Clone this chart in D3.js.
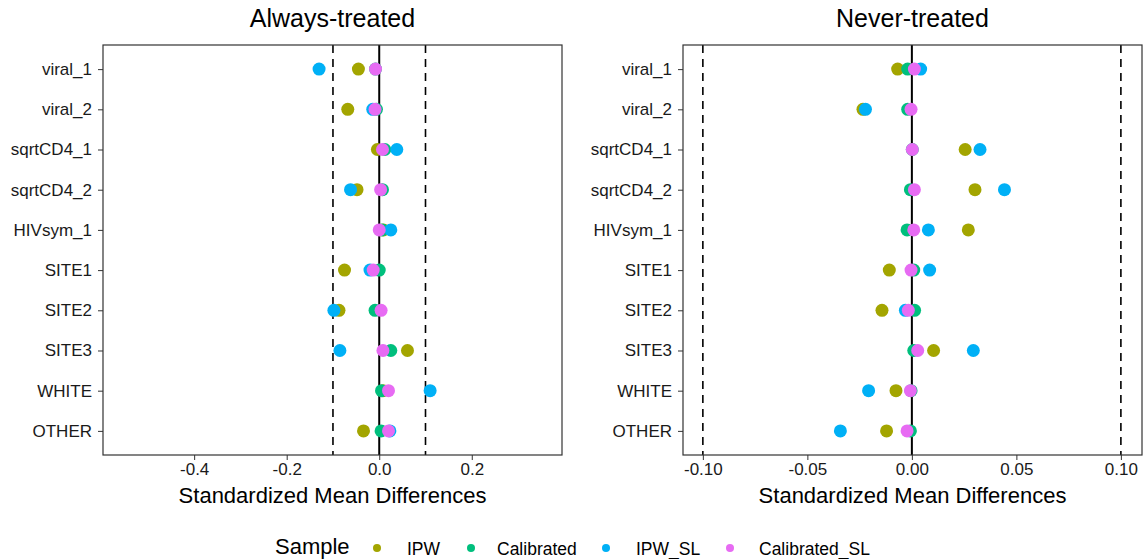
<!DOCTYPE html>
<html>
<head>
<meta charset="utf-8">
<script src="https://cdn.jsdelivr.net/npm/d3@7"></script>
<style>
  body { margin: 0; background: #fff; }
  svg { font-family: "Liberation Sans", Arial, sans-serif; }
</style>
</head>
<body>
<script>
// covariates, top to bottom
const covariates = ['viral_1', 'viral_2', 'sqrtCD4_1', 'sqrtCD4_2', 'HIVsym_1',
                    'SITE1', 'SITE2', 'SITE3', 'WHITE', 'OTHER'];
const methods = ['IPW', 'Calibrated', 'IPW_SL', 'Calibrated_SL'];
const methodColors = ['#A3A500', '#00BF7D', '#00B0F6', '#E76BF3'];

// Always-treated SMDs (one array per method, in covariate order)
const alwaysIPW    = [-0.045, -0.068, -0.004, -0.048, 0.009, -0.075, -0.087, 0.061, 0.008, -0.034];
const alwaysCal    = [-0.008, -0.006, 0.012, 0.007, 0.006, 0.000, -0.009, 0.025, 0.005, 0.004];
const alwaysIPWSL  = [-0.130, -0.014, 0.038, -0.062, 0.025, -0.020, -0.098, -0.085, 0.110, 0.023];
const alwaysCalSL  = [-0.008, -0.009, 0.007, 0.003, 0.000, -0.013, 0.004, 0.008, 0.020, 0.020];

// Never-treated SMDs
const neverIPW     = [-0.0068, -0.0234, 0.0255, 0.0302, 0.0270, -0.0108, -0.0143, 0.0104, -0.0076, -0.0121];
const neverCal     = [-0.0020, -0.0020, 0.0002, -0.0007, -0.0023, 0.0009, 0.0013, 0.0009, -0.0004, -0.0007];
const neverIPWSL   = [0.0042, -0.0222, 0.0326, 0.0443, 0.0079, 0.0085, -0.0031, 0.0294, -0.0207, -0.0342];
const neverCalSL   = [0.0012, -0.0004, 0.0002, 0.0012, 0.0009, -0.0004, -0.0017, 0.0028, -0.0007, -0.0023];

const leftTicks  = [-0.4, -0.2, 0.0, 0.2];
const rightTicks = [-0.10, -0.05, 0.00, 0.05, 0.10];
const threshold = 0.1;

const width = 1144, height = 559;
const svg = d3.select('body').append('svg')
    .attr('width', width).attr('height', height);

// plain hyphen for negatives, like R does
const locale = d3.formatLocale({ decimal: '.', thousands: ',', grouping: [3],
                                 currency: ['', ''], minus: '-' });

const panels = [
  { title: 'Always-treated', x0: 103, x1: 562, domain: [-0.597, 0.395],
    ticks: leftTicks, fmt: locale.format('.1f'),
    series: [alwaysIPW, alwaysCal, alwaysIPWSL, alwaysCalSL] },
  { title: 'Never-treated', x0: 683, x1: 1142, domain: [-0.1095, 0.1101],
    ticks: rightTicks, fmt: locale.format('.2f'),
    series: [neverIPW, neverCal, neverIPWSL, neverCalSL] }
];

const panelTop = 45, panelBottom = 455;

const y = d3.scalePoint()
    .domain(covariates)
    .range([panelTop, panelBottom])
    .padding(0.6);

panels.forEach(p => {
  const x = d3.scaleLinear().domain(p.domain).range([p.x0, p.x1]);
  const g = svg.append('g');

  // title
  g.append('text')
    .attr('x', (p.x0 + p.x1) / 2).attr('y', 27)
    .attr('text-anchor', 'middle')
    .style('font-size', '25px')
    .text(p.title);

  // zero line and thresholds
  g.append('line')
    .attr('x1', x(0)).attr('x2', x(0))
    .attr('y1', panelTop).attr('y2', panelBottom)
    .attr('stroke', '#000').attr('stroke-width', 2);
  [-threshold, threshold].forEach(t => {
    g.append('line')
      .attr('x1', x(t)).attr('x2', x(t))
      .attr('y1', panelTop).attr('y2', panelBottom)
      .attr('stroke', '#000').attr('stroke-width', 1.6)
      .attr('stroke-dasharray', '8,6');
  });

  // points, drawn in legend order
  p.series.forEach((vals, m) => {
    g.selectAll(null)
      .data(vals)
      .enter().append('circle')
      .attr('cx', d => x(d))
      .attr('cy', (d, i) => y(covariates[i]))
      .attr('r', 6.5)
      .attr('fill', methodColors[m]);
  });

  // axes
  const xAxis = d3.axisBottom(x).tickValues(p.ticks).tickFormat(p.fmt)
      .tickSize(5).tickPadding(3);
  const gx = g.append('g').attr('transform', `translate(0,${panelBottom})`).call(xAxis);
  gx.select('.domain').remove();
  gx.selectAll('text').style('font-size', '17px').attr('fill', '#1a1a1a');
  gx.selectAll('line').attr('stroke', '#333');

  const yAxis = d3.axisLeft(y).tickSize(5).tickPadding(6);
  const gy = g.append('g').attr('transform', `translate(${p.x0},0)`).call(yAxis);
  gy.select('.domain').remove();
  gy.selectAll('text').style('font-size', '17px').attr('fill', '#1a1a1a');
  gy.selectAll('line').attr('stroke', '#333');

  // panel border
  g.append('rect')
    .attr('x', p.x0).attr('y', panelTop)
    .attr('width', p.x1 - p.x0).attr('height', panelBottom - panelTop)
    .attr('fill', 'none').attr('stroke', '#333').attr('stroke-width', 1.2);

  // axis title
  g.append('text')
    .attr('x', (p.x0 + p.x1) / 2).attr('y', 503)
    .attr('text-anchor', 'middle')
    .style('font-size', '22px')
    .text('Standardized Mean Differences');
});

// legend
const legend = svg.append('g');
legend.append('text')
  .attr('x', 275).attr('y', 554)
  .style('font-size', '22px')
  .text('Sample');
const legendX = [377, 471, 606, 730];
const legendTextX = [407, 497, 636, 759];
methods.forEach((m, i) => {
  legend.append('circle')
    .attr('cx', legendX[i]).attr('cy', 548)
    .attr('r', 4).attr('fill', methodColors[i]);
  legend.append('text')
    .attr('x', legendTextX[i]).attr('y', 555)
    .style('font-size', '17.5px')
    .text(m);
});
</script>
</body>
</html>
